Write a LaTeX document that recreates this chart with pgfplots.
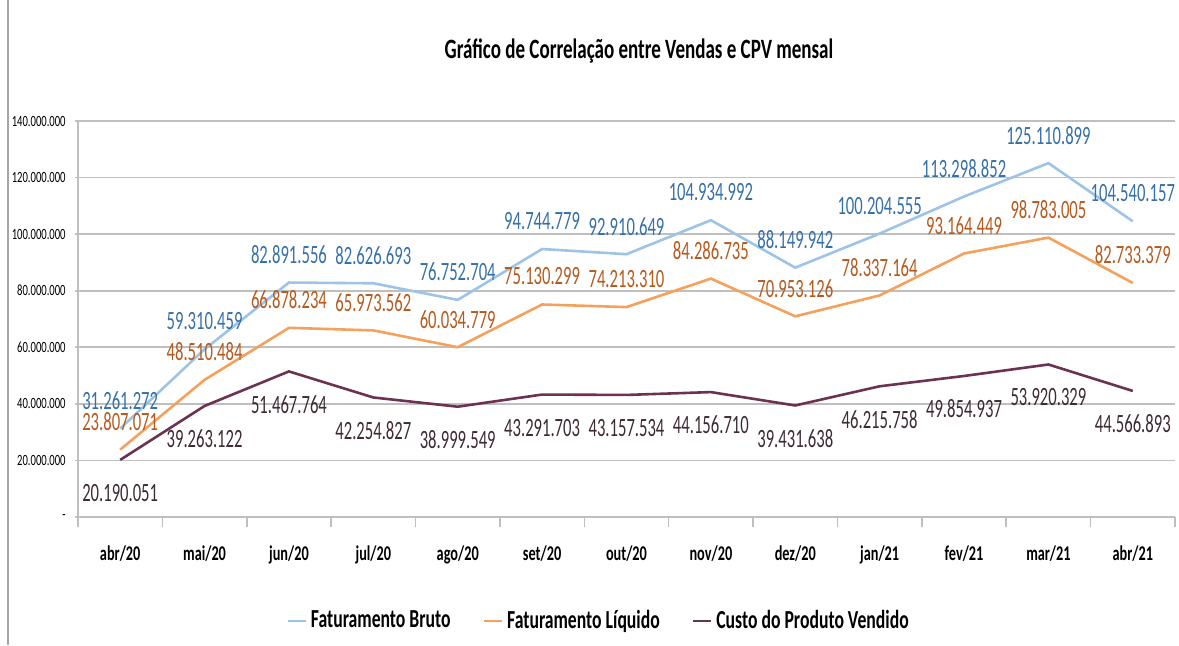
\documentclass[border=0pt]{standalone}
\usepackage{pgfplots}
\pgfplotsset{compat=1.18}
\usepackage{pgfplotstable}
\usepackage{fontspec}
\setmainfont{Carlito}[FakeStretch=0.68]
\newfontfamily\labfont{Carlito}[FakeStretch=0.63]
\definecolor{fbline}{HTML}{9DC3E6}
\definecolor{fblab}{HTML}{3570A8}
\definecolor{flline}{HTML}{F4A15D}
\definecolor{fllab}{HTML}{B55A1E}
\definecolor{cpvline}{HTML}{6B3350}
\definecolor{cpvlab}{HTML}{3E2A35}
\definecolor{gridc}{HTML}{BFBFBF}

\pgfplotstableread{
x y lab
0 31261272 31.261.272
1 59310459 59.310.459
2 82891556 82.891.556
3 82626693 82.626.693
4 76752704 76.752.704
5 94744779 94.744.779
6 92910649 92.910.649
7 104934992 104.934.992
8 88149942 88.149.942
9 100204555 100.204.555
10 113298852 113.298.852
11 125110899 125.110.899
12 104540157 104.540.157
}\fb

\pgfplotstableread{
x y lab
0 23807071 23.807.071
1 48510484 48.510.484
2 66878234 66.878.234
3 65973562 65.973.562
4 60034779 60.034.779
5 75130299 75.130.299
6 74213310 74.213.310
7 84286735 84.286.735
8 70953126 70.953.126
9 78337164 78.337.164
10 93164449 93.164.449
11 98783005 98.783.005
12 82733379 82.733.379
}\fl

\pgfplotstableread{
x y lab
0 20190051 20.190.051
1 39263122 39.263.122
2 51467764 51.467.764
3 42254827 42.254.827
4 38999549 38.999.549
5 43291703 43.291.703
6 43157534 43.157.534
7 44156710 44.156.710
8 39431638 39.431.638
9 46215758 46.215.758
10 49854937 49.854.937
11 53920329 53.920.329
12 44566893 44.566.893
}\cpv

\begin{document}
\begin{tikzpicture}
\useasboundingbox (-39pt,-64pt) rectangle (550.5pt,258.5pt);
\draw[gray!70, line width=0.6pt] (-35pt,-64pt) -- (-35pt,258.5pt);
\begin{axis}[
  at={(0pt,0pt)}, anchor=south west,
  scale only axis, width=548.5pt, height=198pt,
  xmin=-0.5, xmax=12.5, ymin=0, ymax=140000000,
  axis lines=left, axis line style={-, draw=gridc, line width=0.8pt},
  ytick={0,20000000,40000000,60000000,80000000,100000000,120000000,140000000},
  yticklabels={-\hspace{2.5pt},20.000.000,40.000.000,60.000.000,80.000.000,100.000.000,120.000.000,140.000.000},
  scaled y ticks=false,
  ymajorgrids, grid style={gridc, line width=0.8pt},
  xtick={0,1,2,3,4,5,6,7,8,9,10,11,12},
  xticklabels={abr/20,mai/20,jun/20,jul/20,ago/20,set/20,out/20,nov/20,dez/20,jan/21,fev/21,mar/21,abr/21},
  minor xtick={-0.5,0.5,1.5,2.5,3.5,4.5,5.5,6.5,7.5,8.5,9.5,10.5,11.5,12.5},
  tick align=outside, major tick length=1.5pt, minor tick length=5pt,
  major x tick style={draw=none},
  tick style={gridc, line width=0.8pt},
  xticklabel style={font=\fontsize{10.5}{12}\selectfont\bfseries, anchor=base, yshift=-20pt},
  yticklabel style={font=\fontsize{7.8}{9}\selectfont, anchor=east, inner sep=0pt, xshift=-4.5pt},
  /pgf/number format/assume math mode=true,
  clip=false,
  legend style={at={(0.4754,-0.2626)}, anchor=center, draw=none, fill=none,
    legend columns=3, font=\fontsize{13}{15}\selectfont\bfseries,
    /tikz/every even column/.append style={column sep=14pt}},
  legend image code/.code={\draw[#1] (0pt,0pt) -- (9pt,0pt);},
]
\addplot[fbline, line width=1.3pt] table[x=x, y=y] {\fb};
\addlegendentry{Faturamento Bruto}
\addplot[flline, line width=1.3pt] table[x=x, y=y] {\fl};
\addlegendentry{Faturamento Líquido}
\addplot[cpvline, line width=1.3pt] table[x=x, y=y] {\cpv};
\addlegendentry{Custo do Produto Vendido}

\addplot[draw=none, forget plot, nodes near coords, point meta=explicit symbolic,
  nodes near coords style={anchor=center, yshift=14pt, text=fblab, font=\labfont\fontsize{13.2}{15}\selectfont}]
  table[x=x, y=y, meta=lab] {\fb};
\addplot[draw=none, forget plot, nodes near coords, point meta=explicit symbolic,
  nodes near coords style={anchor=center, yshift=14pt, text=fllab, font=\labfont\fontsize{13.2}{15}\selectfont}]
  table[x=x, y=y, meta=lab] {\fl};
\addplot[draw=none, forget plot, nodes near coords, point meta=explicit symbolic,
  nodes near coords style={anchor=center, yshift=-16.5pt, text=cpvlab, font=\labfont\fontsize{13.2}{15}\selectfont}]
  table[x=x, y=y, meta=lab] {\cpv};
\end{axis}
\node[font=\fontsize{14}{16}\selectfont\bfseries, anchor=base] at (280.5pt,229.5pt) {Gráfico de Correlação entre Vendas e CPV mensal};
\end{tikzpicture}
\end{document}
